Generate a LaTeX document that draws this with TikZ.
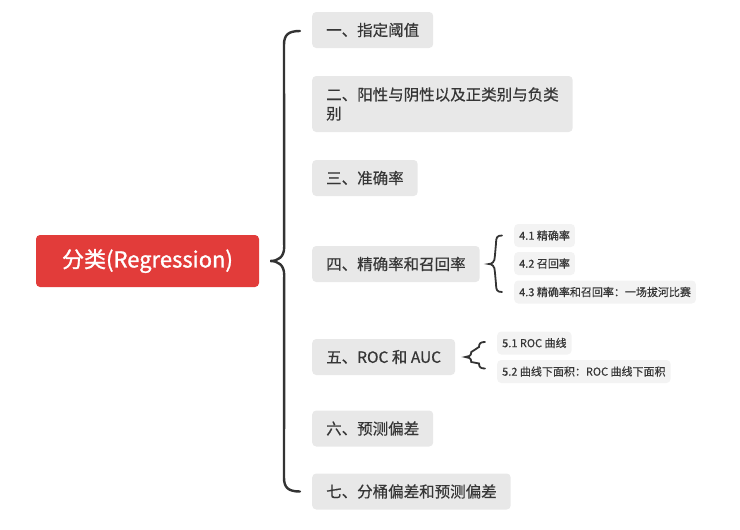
\documentclass[tikz,border=0pt]{standalone}
\usepackage{fontspec}
\setmainfont{Noto Sans CJK SC}[FakeBold=0.5]
\newfontfamily\rootfont{Noto Sans CJK SC}[FakeBold=1.2]
\usetikzlibrary{calc}
\definecolor{boxgray}{HTML}{E8E8E8}
\definecolor{subgray}{HTML}{F3F3F3}
\definecolor{txt}{HTML}{363636}
\definecolor{rootred}{HTML}{E23C3A}
\definecolor{linec}{HTML}{333333}
\tikzset{
  mainbox/.style={fill=boxgray, rounded corners=4pt, anchor=west, inner xsep=14pt, inner ysep=0pt,
    minimum height=36pt, text=txt, font=\fontsize{15.5}{19}\selectfont, align=left},
  subbox/.style={fill=subgray, rounded corners=4pt, anchor=west, inner xsep=5pt, inner ysep=0pt,
    minimum height=23pt, text=txt, font=\fontsize{11}{13}\selectfont},
  rootbox/.style={fill=rootred, rounded corners=4pt, minimum width=223pt, minimum height=52pt,
    text=white, font=\rootfont\fontsize{22}{26}\selectfont, inner sep=0pt},
  bigbrace/.style={draw=linec, line width=2.4pt, line cap=round},
  smallbrace/.style={draw=linec, line width=1.8pt, line cap=round},
}
\begin{document}
\begin{tikzpicture}[x=1pt,y=-1pt]
\useasboundingbox (0,0) rectangle (740,530);
\node[rootbox] (root) at (147.5,261) {分类(Regression)};
\node[mainbox] (b1) at (312,30) {一、指定阈值};
\node[mainbox, minimum height=56pt] (b2) at (312,104) {二、阳性与阴性以及正类别与负类\\别};
\node[mainbox] (b3) at (312,178) {三、准确率};
\node[mainbox] (b4) at (312,264) {四、精确率和召回率};
\node[mainbox] (b5) at (312,357) {五、ROC 和 AUC};
\node[mainbox] (b6) at (312,428.5) {六、预测偏差};
\node[mainbox] (b7) at (312,491.5) {七、分桶偏差和预测偏差};
\node[subbox] (s41) at (514,235.5) {4.1 精确率};
\node[subbox] (s42) at (514,263.5) {4.2 召回率};
\node[subbox] (s43) at (514,292) {4.3 精确率和召回率：一场拔河比赛};
\node[subbox] (s51) at (497,343) {5.1 ROC 曲线};
\node[subbox] (s52) at (497,371.5) {5.2 曲线下面积：ROC 曲线下面积};
% main brace
\coordinate (mt) at ($(root.east)+(11,0)$);
\coordinate (m1) at ($(b1.west)+(-12,1)$);
\coordinate (m7) at ($(b7.west)+(-12,0)$);
\draw[bigbrace] (m1) .. controls ($(m1)+(-12,0)$) and ($(m1)+(-16,4)$) .. ($(m1)+(-16,14)$)
  -- ($(mt)+(14,-14)$) .. controls ($(mt)+(14,-4)$) and ($(mt)+(8,0)$) .. (mt)
  .. controls ($(mt)+(8,0)$) and ($(mt)+(14,4)$) .. ($(mt)+(14,14)$)
  -- ($(m7)+(-16,-14)$) .. controls ($(m7)+(-16,-4)$) and ($(m7)+(-12,0)$) .. (m7);
% brace for 4
\coordinate (t4) at ($(b4.east)+(9,0)$);
\coordinate (u1) at ($(s41.west)+(-12,0)$);
\coordinate (u3) at ($(s43.west)+(-12,0)$);
\draw[smallbrace] (u1) .. controls ($(u1)+(-5,0)$) and ($(u1)+(-6,2)$) .. ($(u1)+(-6,8)$)
  -- ($(t4)+(6,-8)$) .. controls ($(t4)+(6,-2)$) and ($(t4)+(3,0)$) .. (t4)
  .. controls ($(t4)+(3,0)$) and ($(t4)+(6,2)$) .. ($(t4)+(6,8)$)
  -- ($(u3)+(-6,-8)$) .. controls ($(u3)+(-6,-2)$) and ($(u3)+(-5,0)$) .. (u3);
% brace for 5
\coordinate (t5) at ($(b5.east)+(10,0)$);
\coordinate (v1) at ($(s51.west)+(-12,-1)$);
\coordinate (v2) at ($(s52.west)+(-12,-3)$);
\draw[smallbrace] (v1) .. controls ($(v1)+(-4,0)$) and ($(v1)+(-6,1)$) .. ($(v1)+(-6,5)$)
  -- ($(t5)+(6,-5)$) .. controls ($(t5)+(6,-1)$) and ($(t5)+(3,0)$) .. (t5)
  .. controls ($(t5)+(3,0)$) and ($(t5)+(6,1)$) .. ($(t5)+(6,5)$)
  -- ($(v2)+(-6,-5)$) .. controls ($(v2)+(-6,-1)$) and ($(v2)+(-4,0)$) .. (v2);
\end{tikzpicture}
\end{document}
